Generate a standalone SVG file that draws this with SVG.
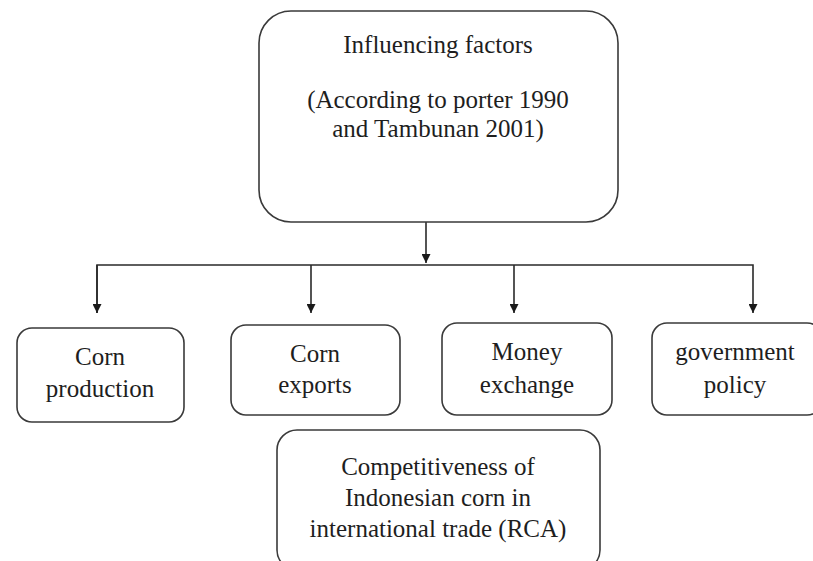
<svg xmlns="http://www.w3.org/2000/svg" width="813" height="561" viewBox="0 0 813 561">
<defs>
<style>
.box{fill:#fff;stroke:#3a3a3a;stroke-width:1.6}
.ln{fill:none;stroke:#2a2a2a;stroke-width:1.6}
text{font-family:"Liberation Serif","Times New Roman",serif;font-size:25px;fill:#1e1e1e;text-anchor:middle}
</style>
<marker id="ah" viewBox="0 0 10 10" refX="10" refY="5" markerWidth="10" markerHeight="9" markerUnits="userSpaceOnUse" orient="auto">
<path d="M0,0 L10,5 L0,10 Z" fill="#1a1a1a"/>
</marker>
</defs>
<rect width="813" height="561" fill="#fff"/>
<g id="connectors">
<line class="ln" x1="426" y1="222" x2="426" y2="263" marker-end="url(#ah)"/>
<polyline class="ln" points="97,313 97,265 753,265 753,313" marker-end="url(#ah)"/>
<line class="ln" x1="97" y1="265" x2="97" y2="313" marker-end="url(#ah)"/>
<line class="ln" x1="311" y1="265" x2="311" y2="313" marker-end="url(#ah)"/>
<line class="ln" x1="514" y1="265" x2="514" y2="313" marker-end="url(#ah)"/>
</g>
<g id="influencing-factors">
<rect class="box" x="259" y="11" width="359" height="211" rx="32"/>
<text x="438" y="53">Influencing factors</text>
<text x="438" y="108">(According to porter 1990</text>
<text x="438" y="137">and Tambunan 2001)</text>
</g>
<g id="corn-production">
<rect class="box" x="17" y="328" width="167" height="94" rx="15"/>
<text x="100" y="365">Corn</text>
<text x="100" y="397">production</text>
</g>
<g id="corn-exports">
<rect class="box" x="231" y="325" width="169" height="90" rx="15"/>
<text x="315" y="362">Corn</text>
<text x="315" y="393">exports</text>
</g>
<g id="money-exchange">
<rect class="box" x="442" y="323" width="170" height="92" rx="15"/>
<text x="527" y="360">Money</text>
<text x="527" y="393">exchange</text>
</g>
<g id="government-policy">
<rect class="box" x="652" y="323" width="170" height="92" rx="15"/>
<text x="735" y="360">government</text>
<text x="735" y="393">policy</text>
</g>
<g id="competitiveness">
<rect class="box" x="277" y="430" width="323" height="140" rx="20"/>
<text x="438" y="475">Competitiveness of</text>
<text x="438" y="506">Indonesian corn in</text>
<text x="438" y="537">international trade (RCA)</text>
</g>
</svg>
